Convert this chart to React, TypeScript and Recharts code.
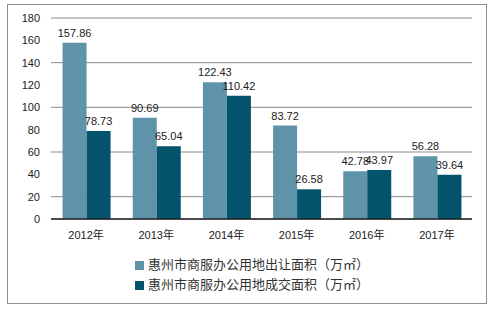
import { BarChart, Bar, XAxis, YAxis, CartesianGrid, Legend, LabelList } from "recharts";

const years = ["2012年", "2013年", "2014年", "2015年", "2016年", "2017年"];
const transferred = [157.86, 90.69, 122.43, 83.72, 42.78, 56.28];
const traded = [78.73, 65.04, 110.42, 26.58, 43.97, 39.64];
const yTicks = [0, 20, 40, 60, 80, 100, 120, 140, 160, 180];

const SERIES_A = "惠州市商服办公用地出让面积（万㎡）";
const SERIES_B = "惠州市商服办公用地成交面积（万㎡）";

const FONT = "'Liberation Sans', 'Noto Sans CJK SC', sans-serif";

const data = years.map((y, i) => ({ name: y, a: transferred[i], b: traded[i] }));

export default function App() {
  return (
    <div style={{ position: "absolute", left: 0, top: 0, width: 492, height: 309, background: "#fff", fontFamily: FONT }}>
      <div
        style={{
          position: "absolute",
          left: 7,
          top: 4,
          width: 478,
          height: 298,
          border: "1px solid #8c8c8c",
          pointerEvents: "none",
        }}
      />
      <BarChart
        width={492}
        height={309}
        data={data}
        margin={{ top: 18, right: 20, left: 0, bottom: 14 }}
        barCategoryGap="16.5%"
        barGap={0}
      >
        <CartesianGrid vertical={false} stroke="#8a8a8a" />
        <XAxis
          dataKey="name"
          height={36}
          tickLine={false}
          tickMargin={6}
          axisLine={{ stroke: "#222", strokeWidth: 1.5 }}
          tick={{ fontSize: 11, fill: "#222", fontFamily: FONT }}
        />
        <YAxis
          width={51}
          domain={[0, 180]}
          ticks={yTicks}
          axisLine={false}
          tickLine={false}
          tickMargin={5}
          tick={{ fontSize: 11, fill: "#222", fontFamily: FONT }}
        />
        <Legend
          layout="vertical"
          verticalAlign="bottom"
          align="center"
          height={40}
          iconType="square"
          iconSize={9}
          wrapperStyle={{ left: 135, fontSize: 13, lineHeight: "20px", fontFamily: FONT }}
          formatter={(v) => <span style={{ color: "#333" }}>{v}</span>}
        />
        <Bar dataKey="a" name={SERIES_A} fill="#5F93A9" isAnimationActive={false}>
          <LabelList dataKey="a" position="top" offset={6} fill="#222" fontSize={11} fontFamily={FONT} />
        </Bar>
        <Bar dataKey="b" name={SERIES_B} fill="#02536B" isAnimationActive={false}>
          <LabelList dataKey="b" position="top" offset={6} fill="#222" fontSize={11} fontFamily={FONT} />
        </Bar>
      </BarChart>
    </div>
  );
}
